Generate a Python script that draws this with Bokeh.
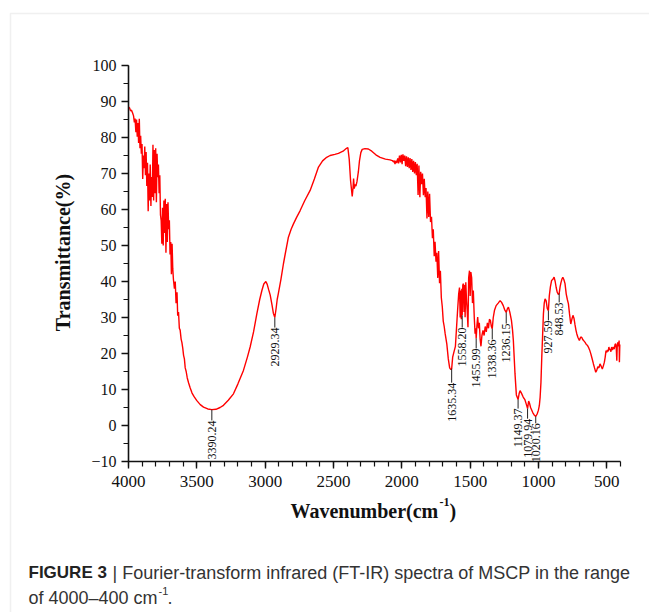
from math import pi
from bokeh.plotting import figure
from bokeh.models import Range1d, FixedTicker, Label, BoxAnnotation
from bokeh.embed import file_html
from bokeh.resources import INLINE
from bokeh.core.properties import value

# ---------------- data ----------------
wavenumber = [
    4000, 3992, 3985, 3978, 3970, 3963, 3957, 3952, 3946, 3941,
    3936, 3931, 3926, 3921, 3916, 3911, 3906, 3901, 3896, 3891,
    3886, 3881, 3876, 3871, 3866, 3861, 3856, 3851, 3846, 3841,
    3836, 3831, 3826, 3821, 3816, 3811, 3806, 3801, 3796, 3791,
    3786, 3781, 3776, 3771, 3766, 3761, 3756, 3751, 3746, 3741,
    3736, 3731, 3726, 3721, 3716, 3711, 3706, 3701, 3696, 3691,
    3686, 3681, 3676, 3671, 3664, 3658, 3652, 3645, 3640, 3634,
    3628, 3622, 3615, 3609, 3603, 3597, 3591, 3585, 3578, 3570,
    3560, 3549, 3535, 3520, 3500, 3475, 3451, 3420, 3390.24, 3360,
    3330, 3305, 3270, 3232, 3200, 3159, 3130, 3110, 3085, 3061,
    3040, 3024, 3010, 2995, 2985, 2975, 2963, 2950, 2940, 2929.34,
    2920, 2912, 2903, 2885, 2866, 2854, 2830, 2810, 2793, 2770,
    2744, 2710, 2671, 2640, 2610, 2580, 2550, 2525, 2490, 2464,
    2430, 2405, 2395, 2385, 2375, 2363, 2357, 2353, 2348, 2342,
    2336, 2328, 2318, 2310, 2300, 2290, 2270, 2245, 2220, 2190,
    2159, 2120, 2086, 2070, 2060, 2055, 2050, 2045, 2038, 2030,
    2024, 2017, 2010, 2004, 1998, 1992, 1985, 1979, 1972, 1966,
    1959, 1953, 1946, 1940, 1933, 1927, 1920, 1914, 1907, 1901,
    1894, 1888, 1881, 1875, 1868, 1862, 1855, 1849, 1842, 1836,
    1829, 1823, 1816, 1810, 1803, 1797, 1790, 1783, 1776, 1770,
    1763, 1757, 1750, 1744, 1737, 1731, 1724, 1718, 1711, 1704,
    1697, 1690, 1683, 1671, 1660, 1650, 1641, 1635.34, 1628, 1618,
    1608, 1600, 1592, 1584, 1578, 1573, 1569, 1565, 1561, 1558.20,
    1554, 1549, 1545, 1541, 1537, 1532, 1527, 1522, 1516, 1511,
    1505, 1500, 1495, 1489, 1483, 1477, 1470, 1464, 1459, 1455.99,
    1450, 1445, 1439, 1433, 1427, 1421, 1414, 1406, 1398, 1390,
    1382, 1374, 1366, 1359, 1352, 1345, 1338.36, 1331, 1322, 1310,
    1295, 1281, 1270, 1258, 1248, 1236.15, 1228, 1220, 1210, 1198,
    1190, 1184, 1172, 1162, 1149.37, 1142, 1135, 1125, 1112, 1100,
    1090, 1079.94, 1072, 1066, 1058, 1050, 1042, 1033, 1020.16, 1010,
    1001, 994, 988, 982, 976, 970, 964, 958, 952, 944,
    936, 927.59, 921, 913, 904, 895, 886, 878, 871, 863,
    855, 848.53, 842, 836, 829, 822, 814, 806, 797, 789,
    781, 773, 764, 756, 748, 740, 733, 726, 720, 712,
    701, 692, 684, 675, 668, 659, 650, 643, 635, 626,
    617, 608, 598, 590, 581, 574, 566, 558, 550, 542,
    533, 526, 518, 512, 506, 500, 496, 490, 485, 480,
    476, 470, 465, 460, 452, 446, 440, 435, 431, 427,
    424, 420, 415, 410, 408, 405,
]

transmittance = [
    88.5, 88.2, 87.4, 87.6, 86.8, 86.0, 84.2, 85.3, 81.5, 85.0,
    80.2, 84.0, 78.5, 85.2, 77.0, 80.5, 75.5, 78.2, 68.5, 75.0,
    71.5, 77.5, 69.5, 76.0, 66.5, 73.0, 59.5, 70.0, 62.5, 72.5,
    61.0, 69.0, 63.5, 78.0, 62.5, 76.5, 64.5, 77.0, 62.0, 75.5,
    69.0, 72.5, 64.5, 69.5, 58.5, 57.0, 50.5, 60.5, 50.0, 62.5,
    53.5, 63.0, 48.0, 61.5, 51.0, 62.0, 54.5, 57.0, 47.5, 51.0,
    42.0, 50.5, 43.5, 40.5, 38.0, 40.0, 34.0, 37.0, 30.5, 31.5,
    27.0, 26.5, 24.0, 23.0, 21.5, 19.5, 18.5, 16.0, 15.0, 13.2,
    11.8, 10.5, 9.0, 8.0, 6.9, 5.8, 5.1, 4.6, 4.4, 4.5,
    5.0, 5.6, 7.0, 8.8, 11.5, 15.3, 19.0, 21.8, 26.0, 31.0,
    35.0, 37.5, 39.3, 40.0, 39.2, 37.8, 36.2, 33.5, 31.2, 30.0,
    32.5, 35.0, 36.8, 40.5, 45.0, 47.5, 52.3, 54.5, 56.0, 57.8,
    59.7, 62.5, 65.3, 68.5, 71.8, 73.5, 74.5, 75.0, 75.3, 75.6,
    76.2, 77.0, 77.2, 74.0, 68.0, 63.6, 66.0, 68.6, 65.8, 67.0,
    66.5, 67.8, 70.5, 73.5, 75.8, 76.7, 76.9, 76.8, 76.2, 75.2,
    74.5, 74.0, 73.8, 73.6, 73.2, 73.6, 72.6, 73.5, 72.9, 74.2,
    72.8, 75.0, 73.1, 75.2, 72.6, 75.3, 73.5, 75.0, 72.0, 74.8,
    71.8, 74.5, 71.5, 74.3, 71.0, 74.0, 70.4, 73.5, 70.0, 73.2,
    69.5, 72.7, 64.0, 72.2, 63.4, 70.5, 67.0, 70.0, 64.0, 68.5,
    63.4, 66.0, 57.5, 65.0, 57.9, 64.4, 56.5, 58.0, 52.0, 54.5,
    47.0, 51.0, 45.5, 48.0, 41.0, 48.5, 39.5, 43.0, 35.5, 33.0,
    29.0, 27.5, 25.5, 22.7, 18.5, 16.0, 15.5, 15.8, 19.0, 20.5,
    22.0, 27.0, 32.0, 36.6, 38.3, 30.0, 37.5, 29.5, 38.0, 30.6,
    39.0, 39.4, 31.5, 39.0, 30.1, 39.8, 35.0, 32.0, 27.3, 41.0,
    43.0, 36.0, 42.6, 41.0, 34.0, 37.5, 30.0, 25.5, 27.0, 24.2,
    28.0, 30.1, 27.0, 28.5, 24.0, 22.0, 25.0, 26.4, 25.0, 27.5,
    26.0, 28.5, 27.0, 29.5, 29.2, 27.5, 26.9, 30.0, 32.0, 33.3,
    34.0, 34.7, 34.2, 33.3, 32.2, 31.4, 32.4, 32.9, 31.5, 29.2,
    26.5, 23.6, 14.4, 8.5, 7.2, 8.8, 9.7, 9.0, 7.9, 7.2,
    6.0, 4.7, 6.8, 6.2, 5.0, 4.3, 3.6, 3.0, 2.5, 3.2,
    4.2, 5.5, 7.9, 12.0, 19.0, 25.0, 31.0, 34.0, 35.2, 34.6,
    32.5, 31.9, 36.0, 38.5, 40.3, 40.6, 41.2, 40.0, 38.4, 37.0,
    36.4, 36.7, 38.5, 39.6, 40.6, 41.2, 40.5, 39.4, 36.5, 35.0,
    33.8, 31.0, 28.2, 29.5, 30.6, 29.7, 28.0, 26.5, 25.5, 24.5,
    23.6, 24.5, 24.5, 23.8, 23.5, 23.1, 22.5, 22.3, 21.8, 21.0,
    19.9, 18.6, 17.1, 16.0, 14.8, 15.3, 16.3, 16.0, 17.1, 16.5,
    15.7, 16.5, 17.6, 19.0, 20.8, 20.3, 21.0, 20.6, 21.8, 21.0,
    21.3, 20.5, 21.8, 21.0, 21.8, 21.2, 22.5, 22.7, 21.5, 18.0,
    22.0, 23.1, 22.0, 23.6, 17.6, 22.5,
]

peak_wavenumber = [3390.24, 2929.34, 1635.34, 1558.20, 1455.99, 1338.36,
                   1236.15, 1149.37, 1079.94, 1020.16, 927.59, 848.53]
peak_labels = ["3390.24", "2929.34", "1635.34", "1558.20", "1455.99", "1338.36",
               "1236.15", "1149.37", "1079.94", "1020.16", "927.59", "848.53"]
peak_transmittance = [4.4, 30.0, 15.8, 30.6, 24.2, 26.9,
                      31.4, 7.2, 4.7, 2.5, 31.9, 36.7]
peak_label_transmittance = [1.4, 27.2, 11.9, 27.2, 21.4, 23.9,
                            28.3, 4.7, 1.9, 0.6, 29.2, 34.2]

x_ticks = [4000, 3500, 3000, 2500, 2000, 1500, 1000, 500]
y_ticks = [-10, 0, 10, 20, 30, 40, 50, 60, 70, 80, 90, 100]
x_limits = (400, 4000)
y_limits = (-10, 100)

x_label = "Wavenumber(cm"
y_label = "Transmittance(%)"
caption_bold = "FIGURE 3"
caption_line1 = "| Fourier-transform infrared (FT-IR) spectra of MSCP in the range"
caption_line2 = "of 4000\u2013400 cm"

# ---------------- layout constants (pixels) ----------------
W, H = 649, 612
FL, FR, FT, FB = 128, 620, 65, 461     # where the axes box sits on the canvas


def cx(px):
    return x_limits[1] + (px - FL) * (x_limits[0] - x_limits[1]) / (FR - FL)


def cy(py):
    return y_limits[1] - (py - FT) * (y_limits[1] - y_limits[0]) / (FB - FT)


SERIF = "Liberation Serif"
SANS = "Liberation Sans"
INK = "#111111"

# the frame fills the whole canvas; the axes sit at fixed data positions
p = figure(width=W, height=H, output_backend="svg", toolbar_location=None,
           x_range=Range1d(cx(0), cx(W)), y_range=Range1d(cy(H), cy(0)),
           min_border=0, min_border_left=0, min_border_right=0,
           min_border_top=0, min_border_bottom=0)
p.outline_line_color = None
p.grid.grid_line_color = None
p.background_fill_color = "white"
p.border_fill_color = "white"

# panel border (light grey, top and left)
p.add_layout(BoxAnnotation(left=cx(10), right=cx(W + 50), top=cy(13), bottom=cy(H + 50),
                           fill_alpha=0, line_color="#cccccc", line_width=1.5))

p.line(wavenumber, transmittance, line_color="#ff0000", line_width=1.4)

p.segment(x0=peak_wavenumber, y0=peak_transmittance, x1=peak_wavenumber,
          y1=peak_label_transmittance, line_color="#222222", line_width=1)
p.text(x=peak_wavenumber, y=peak_label_transmittance, text=peak_labels, angle=pi / 2,
       text_align="right", text_baseline="middle", text_font=value(SERIF),
       text_font_size="12px", text_color=INK)

# axes
xa = p.xaxis[0]
xa.fixed_location = y_limits[0]
xa.bounds = x_limits
xa.ticker = FixedTicker(ticks=x_ticks, minor_ticks=list(range(4000, 399, -100)))
xa.major_label_text_font_size = "17px"
ya = p.yaxis[0]
ya.fixed_location = x_limits[1]
ya.bounds = y_limits
ya.ticker = FixedTicker(ticks=y_ticks, minor_ticks=list(range(-10, 101, 5)))
ya.major_label_overrides = {-10: "\u221210"}
ya.major_label_text_font_size = "16px"
for ax in (xa, ya):
    ax.axis_line_width = 1.6
    ax.axis_line_color = INK
    ax.major_tick_line_color = INK
    ax.minor_tick_line_color = INK
    ax.major_tick_line_width = 1.4
    ax.minor_tick_line_width = 1.2
    ax.major_tick_in = 0
    ax.major_tick_out = 7
    ax.minor_tick_in = 0
    ax.minor_tick_out = 5
    ax.major_label_text_font = SERIF
    ax.major_label_text_color = INK
    ax.major_label_standoff = 5
xa.major_label_standoff = 7


def label(px, py, text, font, size, bold=False, color=INK, angle=0.0,
          align="left", baseline="alphabetic"):
    p.add_layout(Label(x=cx(px), y=cy(py), text=text, angle=angle, text_align=align,
                       text_baseline=baseline, text_font=font, text_font_size=size,
                       text_font_style="bold" if bold else "normal", text_color=color))


# axis titles
label(62, 252, y_label, SERIF, "20px", bold=True, angle=pi / 2, align="center",
      baseline="middle")
label(290, 510, x_label, SERIF, "20px", bold=True)
label(439, 501, "-1", SERIF, "12px", bold=True)
label(449, 510, ")", SERIF, "20px", bold=True)

# caption
label(28, 572, caption_bold, SANS, "17px", bold=True, color="#222222")
label(112, 572, caption_line1, SANS, "18px", color="#333333")
label(28, 597, caption_line2, SANS, "18px", color="#333333")
label(158, 590, "-1", SANS, "11px", color="#333333")
label(167, 597, ".", SANS, "18px", color="#333333")

open("out.html", "w").write(file_html(p, INLINE))
